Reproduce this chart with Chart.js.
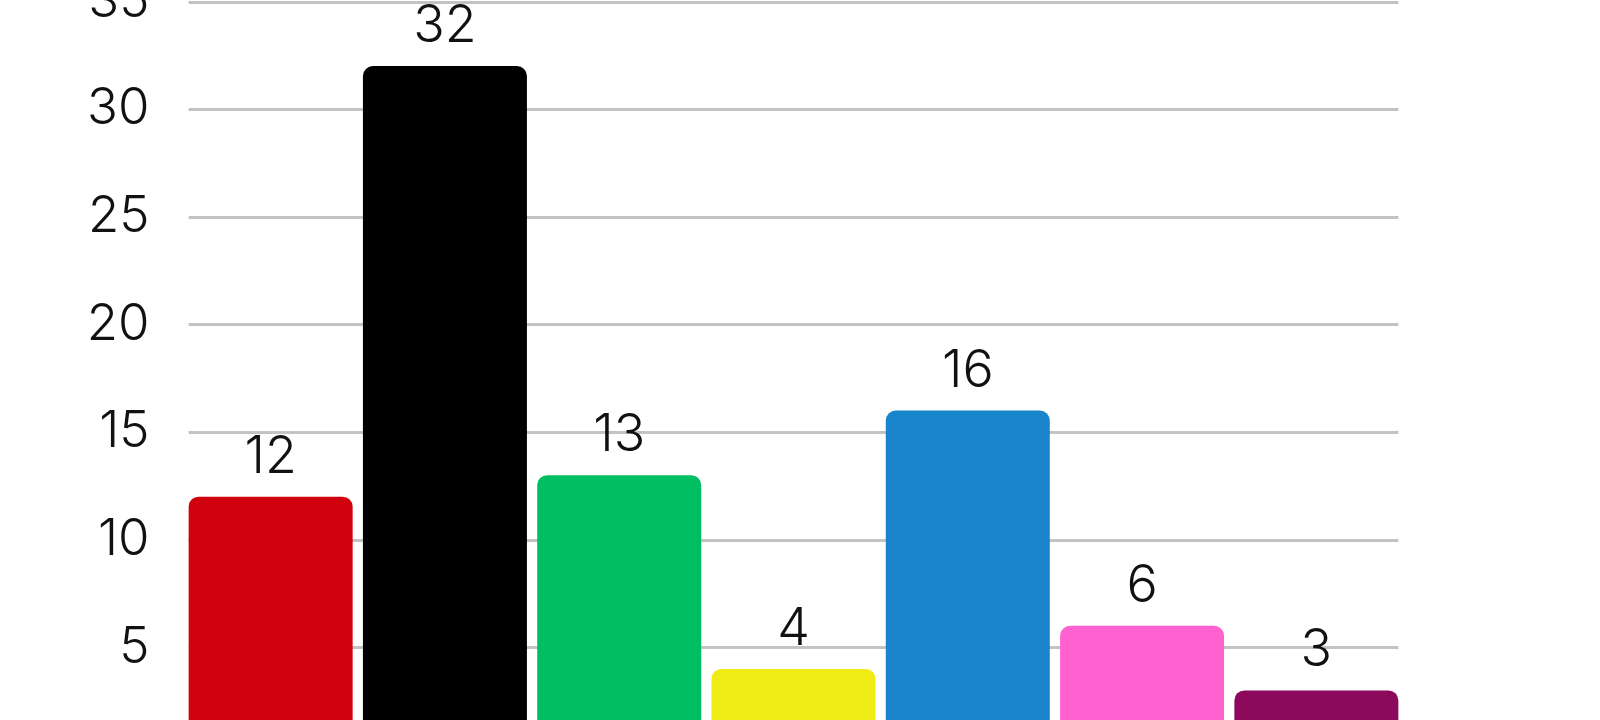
<!DOCTYPE html>
<html>
<head>
<meta charset="utf-8">
<script src="https://cdn.jsdelivr.net/npm/chart.js@4"></script>
<style>
  html, body { margin: 0; padding: 0; background: #fff; overflow: hidden; }
  #wrap { position: absolute; left: 0; top: 0; width: 1600px; height: 760px; }
</style>
</head>
<body>
<div id="wrap"><canvas id="chart" width="1600" height="760"></canvas></div>
<script>
// parties, seats per party
const categories = ['SPD', 'CDU/CSU', 'Grüne', 'FDP', 'AfD', 'Linke', 'BSW'];
const values = [12, 32, 13, 4, 16, 6, 3];
const barColors = ['#d1000f', '#000000', '#00be62', '#efec15', '#1884cb', '#ff62d0', '#8b0a5c'];
const yTicks = [0, 5, 10, 15, 20, 25, 30, 35];

const gridColor = '#c3c3c3';
const textColor = '#111111';
const fontFamily = 'Inter, Roboto, sans-serif';

// grid lines only as wide as the bars
const barGrid = {
  id: 'barGrid',
  beforeDatasetsDraw(chart) {
    const { ctx, scales: { y } } = chart;
    const bars = chart.getDatasetMeta(0).data;
    const first = bars[0], last = bars[bars.length - 1];
    const left = first.x - first.width / 2;
    const right = last.x + last.width / 2;
    ctx.save();
    ctx.strokeStyle = gridColor;
    ctx.lineWidth = 3;
    y.ticks.forEach(t => {
      if (t.value === 0) return;
      const py = Math.round(y.getPixelForValue(t.value)) + 0.5;
      ctx.beginPath();
      ctx.moveTo(left, py);
      ctx.lineTo(right, py);
      ctx.stroke();
    });
    ctx.restore();
  }
};

// value above each bar
const valueLabels = {
  id: 'valueLabels',
  afterDatasetsDraw(chart) {
    const { ctx } = chart;
    const meta = chart.getDatasetMeta(0);
    ctx.save();
    ctx.fillStyle = textColor;
    ctx.font = '300 52px ' + fontFamily;
    ctx.textAlign = 'center';
    ctx.textBaseline = 'alphabetic';
    meta.data.forEach((bar, i) => {
      ctx.fillText(String(values[i]), bar.x, bar.y - 24);
    });
    ctx.restore();
  }
};

new Chart(document.getElementById('chart'), {
  type: 'bar',
  data: {
    labels: categories,
    datasets: [{
      data: values,
      backgroundColor: barColors,
      borderRadius: 10,
      borderSkipped: 'start',
      barPercentage: 0.941,
      categoryPercentage: 1.0
    }]
  },
  options: {
    responsive: false,
    devicePixelRatio: 1,
    animation: false,
    layout: {
      padding: { top: 1.5, right: 196.5, bottom: 5, left: 0 }
    },
    scales: {
      x: {
        display: false
      },
      y: {
        min: 0,
        max: 35,
        afterBuildTicks(scale) {
          scale.ticks = yTicks.map(v => ({ value: v }));
        },
        afterFit(scale) {
          scale.width = 183.5;
          scale.paddingTop = 0;
          scale.paddingBottom = 0;
        },
        border: { display: false },
        grid: { display: false, drawTicks: false },
        ticks: {
          color: textColor,
          padding: 34,
          font: { family: fontFamily, size: 51, weight: 300 },
          callback: v => (v === 0 ? '' : v)
        }
      }
    },
    plugins: {
      legend: { display: false },
      tooltip: { enabled: false }
    }
  },
  plugins: [barGrid, valueLabels]
});
</script>
</body>
</html>
